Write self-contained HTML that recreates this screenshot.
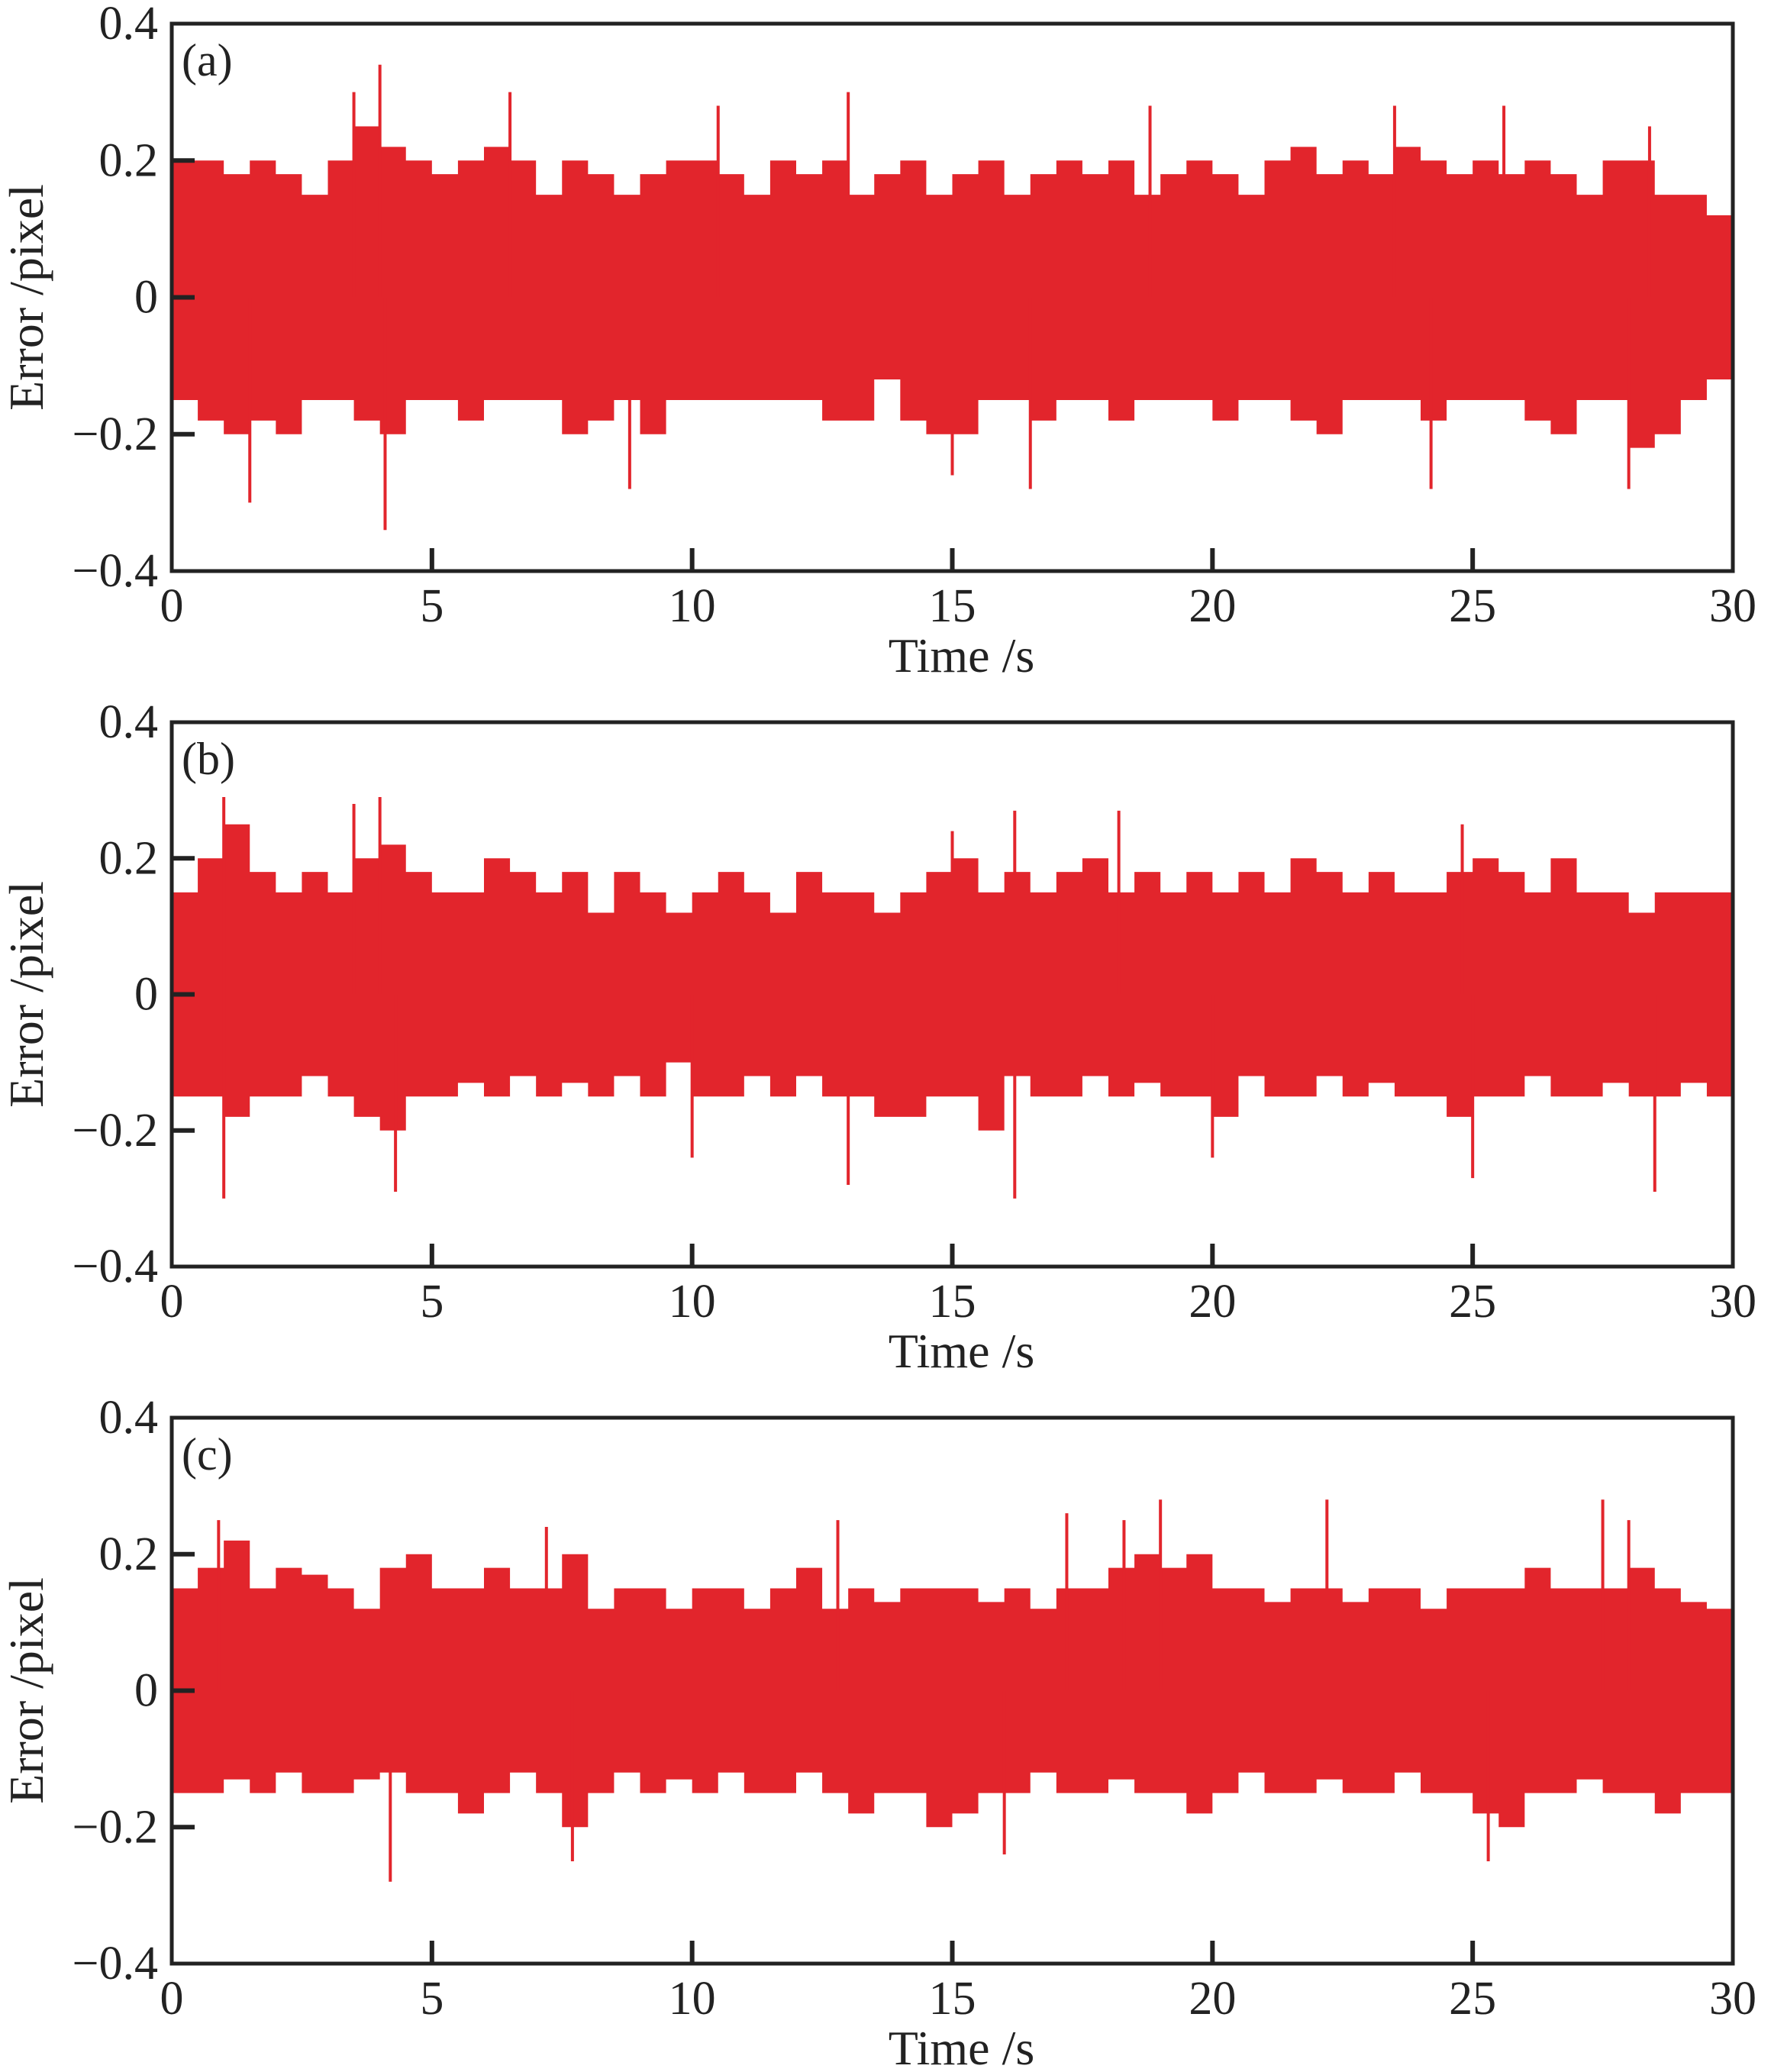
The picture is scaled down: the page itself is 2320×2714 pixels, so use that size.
<!DOCTYPE html>
<html><head><meta charset="utf-8"><style>
html,body{margin:0;padding:0;background:#fff;}
svg{display:block;font-family:"Liberation Serif",serif;}
</style></head><body>
<svg id="fig" width="2320" height="2714" viewBox="0 0 2320 2714" xmlns="http://www.w3.org/2000/svg"></svg>
<script>
const xTicks=[0,5,10,15,20,25,30];
const yTicks=[0.4,0.2,0,-0.2,-0.4];
const yTickLabels=["0.4","0.2","0","\u22120.2","\u22120.4"];
const panelLabels=["(a)","(b)","(c)"];
const upperA=[0.2,0.2,0.18,0.2,0.18,0.15,0.2,0.25,0.22,0.2,0.18,0.2,0.22,0.2,0.15,0.2,0.18,0.15,0.18,0.2,0.2,0.18,0.15,0.2,0.18,0.2,0.15,0.18,0.2,0.15,0.18,0.2,0.15,0.18,0.2,0.18,0.2,0.15,0.18,0.2,0.18,0.15,0.2,0.22,0.18,0.2,0.18,0.22,0.2,0.18,0.2,0.18,0.2,0.18,0.15,0.2,0.2,0.15,0.15,0.12];
const lowerA=[-0.15,-0.18,-0.2,-0.18,-0.2,-0.15,-0.15,-0.18,-0.2,-0.15,-0.15,-0.18,-0.15,-0.15,-0.15,-0.2,-0.18,-0.15,-0.2,-0.15,-0.15,-0.15,-0.15,-0.15,-0.15,-0.18,-0.18,-0.12,-0.18,-0.2,-0.2,-0.15,-0.15,-0.18,-0.15,-0.15,-0.18,-0.15,-0.15,-0.15,-0.18,-0.15,-0.15,-0.18,-0.2,-0.15,-0.15,-0.15,-0.18,-0.15,-0.15,-0.15,-0.18,-0.2,-0.15,-0.15,-0.22,-0.2,-0.15,-0.12];
const upperB=[0.15,0.2,0.25,0.18,0.15,0.18,0.15,0.2,0.22,0.18,0.15,0.15,0.2,0.18,0.15,0.18,0.12,0.18,0.15,0.12,0.15,0.18,0.15,0.12,0.18,0.15,0.15,0.12,0.15,0.18,0.2,0.15,0.18,0.15,0.18,0.2,0.15,0.18,0.15,0.18,0.15,0.18,0.15,0.2,0.18,0.15,0.18,0.15,0.15,0.18,0.2,0.18,0.15,0.2,0.15,0.15,0.12,0.15,0.15,0.15];
const lowerB=[-0.15,-0.15,-0.18,-0.15,-0.15,-0.12,-0.15,-0.18,-0.2,-0.15,-0.15,-0.13,-0.15,-0.12,-0.15,-0.13,-0.15,-0.12,-0.15,-0.1,-0.15,-0.15,-0.12,-0.15,-0.12,-0.15,-0.15,-0.18,-0.18,-0.15,-0.15,-0.2,-0.12,-0.15,-0.15,-0.12,-0.15,-0.13,-0.15,-0.15,-0.18,-0.12,-0.15,-0.15,-0.12,-0.15,-0.13,-0.15,-0.15,-0.18,-0.15,-0.15,-0.12,-0.15,-0.15,-0.13,-0.15,-0.15,-0.13,-0.15];
const upperC=[0.15,0.18,0.22,0.15,0.18,0.17,0.15,0.12,0.18,0.2,0.15,0.15,0.18,0.15,0.15,0.2,0.12,0.15,0.15,0.12,0.15,0.15,0.12,0.15,0.18,0.12,0.15,0.13,0.15,0.15,0.15,0.13,0.15,0.12,0.15,0.15,0.18,0.2,0.18,0.2,0.15,0.15,0.13,0.15,0.15,0.13,0.15,0.15,0.12,0.15,0.15,0.15,0.18,0.15,0.15,0.15,0.18,0.15,0.13,0.12];
const lowerC=[-0.15,-0.15,-0.13,-0.15,-0.12,-0.15,-0.15,-0.13,-0.12,-0.15,-0.15,-0.18,-0.15,-0.12,-0.15,-0.2,-0.15,-0.12,-0.15,-0.13,-0.15,-0.12,-0.15,-0.15,-0.12,-0.15,-0.18,-0.15,-0.15,-0.2,-0.18,-0.15,-0.15,-0.12,-0.15,-0.15,-0.13,-0.15,-0.15,-0.18,-0.15,-0.12,-0.15,-0.15,-0.13,-0.15,-0.15,-0.12,-0.15,-0.15,-0.18,-0.2,-0.15,-0.15,-0.13,-0.15,-0.15,-0.18,-0.15,-0.15];
const spikeTimesA=[1.5,3.5,4.0,4.1,6.5,8.8,10.5,13.0,15.0,16.5,18.8,23.5,24.2,25.6,28.0,28.4];
const spikeValsA=[-0.3,0.3,0.34,-0.34,0.3,-0.28,0.28,0.3,-0.26,-0.28,0.28,0.28,-0.28,0.28,-0.28,0.25];
const spikeTimesB=[1.0,1.0,3.5,4.0,4.3,10.0,13.0,15.0,16.2,16.2,18.2,20.0,24.8,25.0,28.5];
const spikeValsB=[0.29,-0.3,0.28,0.29,-0.29,-0.24,-0.28,0.24,0.27,-0.3,0.27,-0.24,0.25,-0.27,-0.29];
const spikeTimesC=[0.9,4.2,7.2,7.7,12.8,16.0,17.2,18.3,19.0,22.2,25.3,27.5,28.0];
const spikeValsC=[0.25,-0.28,0.24,-0.25,0.25,-0.24,0.26,0.25,0.28,0.28,-0.25,0.28,0.25];
const panelsUpper=[upperA,upperB,upperC];
const panelsLower=[lowerA,lowerB,lowerC];
const panelsSpikeT=[spikeTimesA,spikeTimesB,spikeTimesC];
const panelsSpikeV=[spikeValsA,spikeValsB,spikeValsC];

const NS="http://www.w3.org/2000/svg";
const svg=document.getElementById('fig');
const tops=[31,946,1857], bots=[748,1659,2572];
const L=225, R=2270;
const RED="#e2252c";
function mk(tag,attrs,parent){const e=document.createElementNS(NS,tag);for(const k in attrs)e.setAttribute(k,attrs[k]);(parent||svg).appendChild(e);return e;}
const ids=["a","b","c"];
for(let p=0;p<3;p++){
  const T=tops[p],B=bots[p];
  const xs=t=>L+(R-L)*t/30;
  const ys=v=>T+(B-T)*(0.4-v)/0.8;
  const g=mk('g',{});
  
  
  const up=panelsUpper[p], lo=panelsLower[p], n=up.length, dt=30/n;
  let d="M"+xs(0)+","+ys(up[0]);
  for(let i=0;i<n;i++){d+="L"+xs(i*dt)+","+ys(up[i])+"L"+xs((i+1)*dt)+","+ys(up[i]);}
  for(let i=n-1;i>=0;i--){d+="L"+xs((i+1)*dt)+","+ys(lo[i])+"L"+xs(i*dt)+","+ys(lo[i]);}
  d+="Z";
  const area=mk('path',{d:d,fill:RED},g);
  
  
  const st=panelsSpikeT[p], sv=panelsSpikeV[p];
  for(let i=0;i<st.length;i++){
    const s=mk('line',{x1:xs(st[i]),x2:xs(st[i]),y1:ys(0),y2:ys(sv[i]),stroke:RED,'stroke-width':4},g);
    
    
  }
  const fr=mk('rect',{x:L,y:T,width:R-L,height:B-T,fill:'none',stroke:'#222','stroke-width':5},g);
  
  
  xTicks.forEach(t=>{
    const x=xs(t);
    if(t>0&&t<30){const tk=mk('line',{x1:x,x2:x,y1:B,y2:B-30,stroke:'#222','stroke-width':6},g);
      
      }
    const tx=mk('text',{x:x,y:B+66,'font-size':62,'text-anchor':'middle',fill:'#222'},g);
    tx.textContent=String(t);
    
    
  });
  yTicks.forEach((v,i)=>{
    const y=ys(v);
    if(i>0&&i<4){const tk=mk('line',{x1:L,x2:L+30,y1:y,y2:y,stroke:'#222','stroke-width':6},g);
      
      }
    const tx=mk('text',{x:207,y:y+20,'font-size':62,'text-anchor':'end',fill:'#222'},g);
    tx.textContent=yTickLabels[i];
    
    
  });
  const pl=mk('text',{x:238,y:T+68,'font-size':60,fill:'#222'},g);
  pl.textContent=panelLabels[p];
  
  
  const xt=mk('text',{x:(L+R)/2+12,y:B+132,'font-size':64,'text-anchor':'middle',fill:'#222'},g);
  xt.textContent="Time /s";
  
  
  const cy=(T+B)/2;
  const yt=mk('text',{x:0,y:0,'font-size':64,'text-anchor':'middle',fill:'#222',transform:'translate(56,'+cy+') rotate(-90)'},g);
  yt.textContent="Error /pixel";
  
  
}
</script>
</body></html>
